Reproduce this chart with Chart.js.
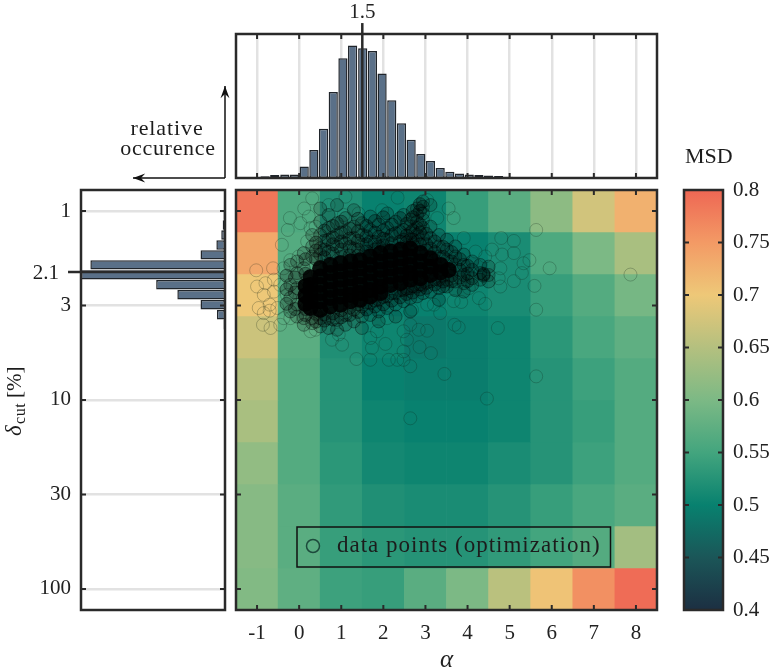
<!DOCTYPE html>
<html>
<head>
<meta charset="utf-8">
<title>MSD over alpha and delta_cut</title>
<script src="https://cdn.jsdelivr.net/npm/chart.js@4"></script>
<style>
  html, body { margin: 0; background: #fff; }
  #wrap { position: relative; width: 771px; height: 670px; overflow: hidden; }
  canvas { position: absolute; }
</style>
</head>
<body>
<div id="wrap">
  <canvas id="leftHist" width="232" height="640" style="left:0;top:0"></canvas>
  <canvas id="topHist" width="436" height="184" style="left:230px;top:0"></canvas>
  <canvas id="heat" width="435" height="485" style="left:230px;top:185px"></canvas>
  <canvas id="bar" width="111" height="490" style="left:660px;top:140px"></canvas>
</div>
<script>
// axes
const alphaTicks = [-1, 0, 1, 2, 3, 4, 5, 6, 7, 8];
const deltaTicks = [1, 3.162, 10, 31.62, 100];
const deltaLabels = ["1", "3", "10", "30", "100"];
const alphaPeak = 1.5;
const deltaPeak = 2.1;

// heat map, one row per delta bin, one value per alpha
const deltaEdges = [0.7743, 1.292, 2.154, 3.594, 5.995, 10, 16.68, 27.83, 46.42, 77.43, 129.2];
const msdRows = [
  [0.785, 0.56, 0.52, 0.5, 0.505, 0.54, 0.57, 0.615, 0.675, 0.725],
  [0.735, 0.565, 0.52, 0.495, 0.495, 0.5, 0.515, 0.56, 0.6, 0.64],
  [0.7, 0.565, 0.525, 0.5, 0.5, 0.505, 0.515, 0.54, 0.565, 0.595],
  [0.67, 0.57, 0.52, 0.505, 0.49, 0.495, 0.505, 0.53, 0.555, 0.575],
  [0.65, 0.565, 0.525, 0.5, 0.495, 0.495, 0.505, 0.525, 0.545, 0.565],
  [0.64, 0.565, 0.525, 0.505, 0.5, 0.5, 0.505, 0.525, 0.54, 0.565],
  [0.62, 0.565, 0.53, 0.51, 0.505, 0.505, 0.515, 0.525, 0.545, 0.565],
  [0.61, 0.57, 0.535, 0.52, 0.515, 0.515, 0.525, 0.54, 0.555, 0.57],
  [0.61, 0.57, 0.54, 0.53, 0.525, 0.525, 0.535, 0.55, 0.565, 0.635],
  [0.605, 0.575, 0.545, 0.54, 0.57, 0.6, 0.655, 0.705, 0.76, 0.795]
];

// colour bar
const barTicks = [0.4, 0.45, 0.5, 0.55, 0.6, 0.65, 0.7, 0.75, 0.8];
const barColors = ["#1c2f42", "#1b5658", "#08816f", "#43a57e", "#7cb985", "#b4c07f", "#eec878", "#f39a65", "#ee6754"];

// histograms, relative occurence
const alphaBins = [-0.81, -0.58, -0.34, -0.11, 0.12, 0.35, 0.58, 0.81, 1.04, 1.27, 1.51, 1.74, 1.97, 2.2, 2.43, 2.66, 2.89, 3.12, 3.35, 3.58, 3.81, 4.04, 4.27, 4.5, 4.74, 4.97, 5.2, 5.43, 5.67];
const alphaCounts = [0.012, 0.021, 0.025, 0.025, 0.079, 0.194, 0.342, 0.598, 0.831, 0.921, 0.901, 0.882, 0.725, 0.54, 0.381, 0.266, 0.166, 0.118, 0.069, 0.044, 0.032, 0.025, 0.021, 0.018, 0.014, 0.009, 0.007, 0.005, 0.005];
const deltaBins = [1.05, 1.185, 1.339, 1.512, 1.707, 1.928, 2.177, 2.458, 2.776, 3.135, 3.54, 3.998];
const deltaCounts = [0.01, 0.016, 0.026, 0.06, 0.17, 0.935, 1.0, 0.478, 0.331, 0.17, 0.056, 0.01];

// optimisation results, [alpha, delta]
const loosePoints = [
  [-1.02, 2.06], [-0.62, 2.01], [-1, 2.51], [-0.8, 2.41], [-0.6, 2.31], [-0.84, 2.78], [-0.6, 2.67], [-0.96, 3.26], [-0.7, 3.37], [-0.84, 3.47],
  [-0.86, 4], [-0.68, 4.16], [-0.7, 3.13], [-0.52, 3.26], [-0.41, 1.51], [-0.22, 1.09], [-0.27, 1.26], [0.31, 0.857], [0.12, 0.97], [0.23, 1.07],
  [0.03, 1.16], [0.27, 1.23], [0.19, 1.45], [0.39, 1.21], [-0.01, 1.74], [-0.21, 1.82], [-0.37, 2.01], [-0.45, 2.46], [-0.29, 2.78], [-0.37, 3.69],
  [-0.45, 4], [-0.21, 3.69], [0.27, 4.33], [0.39, 4.25], [0.78, 4.8], [0.94, 4.5], [1.02, 5.1], [1.36, 6.07], [1.69, 6.13], [1.73, 5.3],
  [2.05, 5.05], [2.13, 6.13], [2.33, 6.13], [2.48, 5.53], [2.48, 6.13], [2.64, 6.63], [2.56, 4.8], [2.84, 4.25], [3.04, 4.3], [2.86, 5.25],
  [3.13, 5.65], [3.45, 7.28], [3.69, 4], [3.79, 4.13], [3.67, 3], [3.85, 3.03], [4.27, 2.89], [4.42, 3.1], [4.72, 4.16], [5.63, 3.33],
  [5.59, 2.49], [5.63, 7.5], [4.46, 9.83], [2.64, 12.5], [5.63, 1.26], [5.95, 2.01], [7.87, 2.17], [4.8, 1.39], [5.1, 1.44], [4.82, 1.7],
  [4.58, 1.6], [5.1, 1.67], [5.47, 1.82], [5.33, 1.89], [5.29, 2.13], [5.1, 2.35], [4.78, 2.51], [4.78, 2.01], [4.74, 2.27], [4.03, 2.56],
  [3.91, 1.39], [4.19, 1.64], [4.42, 1.74], [3.67, 1.09], [3.55, 0.97], [3.04, 0.875], [2.34, 0.85], [1.1, 0.84], [0.7, 0.93], [1.06, 1.05],
  [1.41, 1.03], [1.97, 0.99], [3.28, 1.09], [3.2, 3.13], [3.35, 3.47], [2.68, 3.33], [3.04, 3.13], [1.85, 4.33], [1.69, 4.7], [2.48, 4.33],
  [2.09, 3.69], [2.64, 4]
];
// around the cloud: alpha and the delta values seen in that column
const fringeColumns = [
  [-0.21, [1.93, 2.46, 2.89, 3.4]],
  [-0.05, [1.85, 2.13, 2.56, 3.13, 3.62]],
  [0.11, [1.67, 2.01, 3.69, 4]],
  [0.31, [1.34, 1.54, 1.74, 3.69, 3.92]],
  [0.5, [0.97, 1.14, 1.34, 1.58, 1.7, 3.69, 4.08]],
  [0.7, [1.05, 1.23, 1.42, 1.64, 3.69, 4.16]],
  [0.9, [0.93, 1.16, 1.34, 1.54, 3.77, 4.25]],
  [1.1, [1.09, 1.29, 1.48, 3.55, 4]],
  [1.3, [0.99, 1.21, 1.39, 1.58, 3.33, 3.84]],
  [1.49, [1.16, 1.34, 1.51, 3.2, 3.62, 4.16]],
  [1.69, [1.07, 1.26, 1.45, 3.07, 3.55]],
  [1.89, [1.18, 1.37, 1.54, 2.95, 3.4, 3.84]],
  [2.09, [1.03, 1.23, 1.42, 2.83, 3.26]],
  [2.29, [1.14, 1.31, 2.72, 3.13, 3.62]],
  [2.48, [1.05, 1.26, 1.42, 2.62, 3]],
  [2.64, [1.11, 1.21, 1.31, 1.42, 2.56, 2.89, 3.4]],
  [2.8, [0.97, 1.05, 1.14, 1.23, 1.34, 1.45, 2.51, 2.83]],
  [2.94, [0.89, 0.95, 1.03, 1.11, 1.23, 1.39, 2.46, 2.72]],
  [3.12, [0.93, 1.21, 1.39, 1.58, 2.36, 2.67]],
  [3.32, [1.34, 1.54, 1.74, 2.31, 2.56, 2.95]],
  [3.51, [1.42, 1.6, 1.82, 2.31, 2.51]],
  [3.71, [1.54, 1.74, 1.93, 2.36, 2.62]],
  [3.91, [1.7, 1.93, 2.18, 2.41, 2.67]],
  [4.11, [1.85, 2.05, 2.27, 2.46]],
  [4.3, [1.93, 2.13, 2.31]],
  [4.38, [2.15, 2.17, 2.2]],
  [4.5, [1.97, 2.18, 2.36]]
];
// closer in, where the rings start to run together
const hazeColumns = [
  [-0.3, [2.2, 2.6, 3.1]],
  [-0.1, [2.25, 2.7, 3.3]],
  [0.15, [1.8, 2.15, 2.5, 2.85, 3.3, 3.55]],
  [0.4, [1.47, 1.62, 1.8, 3.5, 3.85]],
  [0.6, [1.27, 1.44, 1.6, 1.76, 3.52, 3.8]],
  [0.8, [1.2, 1.38, 1.5, 1.68, 3.48, 3.75]],
  [1, [1.14, 1.3, 1.45, 1.6, 1.75, 3.35, 3.65]],
  [1.2, [1.24, 1.4, 1.55, 1.72, 3.25, 3.55]],
  [1.4, [1.1, 1.28, 1.44, 1.6, 1.72, 3.12, 3.42]],
  [1.6, [1.2, 1.36, 1.5, 1.64, 3.05, 3.32]],
  [1.8, [1.13, 1.3, 1.46, 1.6, 2.98, 3.2]],
  [2, [1.08, 1.27, 1.4, 1.52, 2.85, 3.12]],
  [2.2, [1.18, 1.34, 1.48, 2.72, 2.98]],
  [2.4, [1.09, 1.29, 1.45, 2.62, 2.86]],
  [2.55, [1.17, 1.35, 1.47, 2.58, 2.75]],
  [2.7, [1, 1.08, 1.27, 1.42, 1.5, 2.5, 2.7]],
  [2.87, [0.92, 1, 1.18, 1.3, 1.5, 2.45, 2.6]],
  [3.02, [1.32, 1.5, 1.62, 2.4, 2.55]],
  [3.22, [1.45, 1.65, 1.82, 2.3, 2.45]],
  [3.42, [1.55, 1.75, 2.2, 2.36, 2.5]],
  [3.62, [1.65, 1.85, 2.2, 2.35]],
  [3.82, [1.8, 2.05, 2.25]],
  [4, [1.95, 2.15, 2.35]]
];
// solid middle of the cloud
const coreColumns = [
  [0.15, [2.5, 2.8, 3.1]],
  [0.27, [2.24, 2.46, 2.72, 3, 3.26]],
  [0.5, [2.01, 2.22, 2.46, 2.72, 3, 3.33]],
  [0.74, [1.93, 2.13, 2.36, 2.62, 2.89, 3.2]],
  [0.98, [1.89, 2.09, 2.31, 2.56, 2.83, 3.13]],
  [1.22, [1.85, 2.05, 2.27, 2.51, 2.78, 3]],
  [1.45, [1.82, 2.01, 2.22, 2.46, 2.72, 2.95]],
  [1.69, [1.74, 1.93, 2.13, 2.36, 2.62, 2.83]],
  [1.93, [1.67, 1.85, 2.05, 2.27, 2.51, 2.72]],
  [2.17, [1.64, 1.82, 2.01, 2.22, 2.46]],
  [2.41, [1.6, 1.78, 1.97, 2.18, 2.41]],
  [2.64, [1.58, 1.74, 1.93, 2.13, 2.31]],
  [2.88, [1.67, 1.85, 2.05, 2.27]],
  [3.12, [1.78, 1.97, 2.18]],
  [3.36, [1.93, 2.11]],
  [3.55, [2.05]]
];

const serif = "'Liberation Serif', serif";
const ink = "#2a2a2a";
const gridGrey = "#e2e2e2";
const histFill = "#5a7088";
const xRange = { min: -1.5, max: 8.5 };
const yRange = { min: deltaEdges[0], max: deltaEdges[deltaEdges.length - 1] };

const asXY = ([x, y]) => ({ x, y });
const unfold = (cols) => cols.flatMap(([a, ds]) => ds.map((d) => ({ x: a, y: d })));

function msdColor(v) {
  const t = Math.min(barColors.length - 1.001, Math.max(0, (v - barTicks[0]) / 0.05));
  const i = Math.floor(t);
  const hex = (c, k) => parseInt(c.substr(1 + 2 * k, 2), 16);
  const rgb = [0, 1, 2].map((k) => Math.round(hex(barColors[i], k) * (1 - t + i) + hex(barColors[i + 1], k) * (t - i)));
  return `rgb(${rgb.join(",")})`;
}

// fixed size for an axis box so the plot box lands where it should
const room = (size) => (s) => {
  if (s.isHorizontal()) s.height = size;
  else s.width = size;
  s.paddingLeft = s.paddingRight = s.paddingTop = s.paddingBottom = 0;
};
const setTicks = (vals) => (s) => {
  s.ticks = vals.map((value) => ({ value }));
};
const tickFont = { family: serif, size: 21 };
const labelOpts = (padding, callback) => ({
  padding, callback, autoSkip: false, maxRotation: 0, color: "#222", font: tickFont
});
const noGrid = { display: false, drawTicks: false, offset: false };
const greyGrid = { color: gridGrey, lineWidth: 2.5, drawTicks: false, offset: false };

// box and inward tick marks
const frame = (sides) => ({
  id: "frame",
  afterDraw(chart) {
    const { ctx, chartArea: a, scales } = chart;
    ctx.save();
    ctx.strokeStyle = ink;
    ctx.lineWidth = 2;
    const len = 5;
    if (sides.x) {
      scales.x.ticks.forEach((t) => {
        const p = scales.x.getPixelForValue(t.value);
        ctx.beginPath();
        ctx.moveTo(p, a.top); ctx.lineTo(p, a.top + len);
        ctx.moveTo(p, a.bottom); ctx.lineTo(p, a.bottom - len);
        ctx.stroke();
      });
    }
    if (sides.y) {
      scales.y.ticks.forEach((t) => {
        const p = scales.y.getPixelForValue(t.value);
        ctx.beginPath();
        ctx.moveTo(a.left, p); ctx.lineTo(a.left + len, p);
        ctx.moveTo(a.right, p); ctx.lineTo(a.right - len, p);
        ctx.stroke();
      });
    }
    ctx.lineWidth = 2.5;
    ctx.strokeRect(a.left, a.top, a.right - a.left, a.bottom - a.top);
    ctx.restore();
  }
});

function text(ctx, str, x, y, font, align, spacing) {
  ctx.font = font;
  ctx.fillStyle = "#1c1c1c";
  ctx.textAlign = align || "left";
  ctx.textBaseline = "alphabetic";
  ctx.letterSpacing = spacing || "0px";
  ctx.fillText(str, x, y);
}
function arrow(ctx, x0, y0, x1, y1) {
  const ang = Math.atan2(y1 - y0, x1 - x0);
  ctx.beginPath();
  ctx.moveTo(x0, y0);
  ctx.lineTo(x1, y1);
  ctx.stroke();
  ctx.beginPath();
  ctx.moveTo(x1, y1);
  ctx.lineTo(x1 - 13 * Math.cos(ang - 0.35), y1 - 13 * Math.sin(ang - 0.35));
  ctx.lineTo(x1 - 8 * Math.cos(ang), y1 - 8 * Math.sin(ang));
  ctx.lineTo(x1 - 13 * Math.cos(ang + 0.35), y1 - 13 * Math.sin(ang + 0.35));
  ctx.closePath();
  ctx.fill();
}

const common = { responsive: false, animation: false, devicePixelRatio: 1 };
const quiet = { legend: { display: false }, tooltip: { enabled: false } };

// left histogram
new Chart(document.getElementById("leftHist"), {
  type: "bar",
  data: {
    datasets: [
      {
        type: "scatter", showLine: true, clip: false, order: 0, pointRadius: 0,
        borderColor: ink, borderWidth: 2.5,
        data: [{ x: 0, y: deltaPeak }, { x: 1.09, y: deltaPeak }]
      },
      {
        indexAxis: "y", order: 1,
        data: deltaBins.map((d, i) => ({ x: deltaCounts[i], y: d })),
        backgroundColor: histFill, borderColor: "#20252b", borderWidth: 1.5,
        borderSkipped: false, barThickness: 9.4, inflateAmount: 0
      }
    ]
  },
  options: {
    ...common,
    layout: { autoPadding: false, padding: { left: 0, right: 7, top: 190, bottom: 30 } },
    scales: {
      x: { type: "linear", reverse: true, min: 0, max: 1, display: false, offset: false, grid: noGrid },
      y: {
        type: "logarithmic", reverse: true, beginAtZero: false, ...yRange, offset: false,
        afterBuildTicks: setTicks(deltaTicks), afterFit: room(81),
        grid: greyGrid, border: { display: false },
        ticks: labelOpts(10, (v) => deltaLabels[deltaTicks.indexOf(v)])
      }
    },
    plugins: quiet
  },
  plugins: [frame({ y: true }), {
    id: "notes",
    afterDraw({ ctx, scales }) {
      ctx.save();
      text(ctx, String(deltaPeak), 59, scales.y.getPixelForValue(deltaPeak) + 7, `21px ${serif}`, "right");
      text(ctx, "relative", 167, 135, `22px ${serif}`, "center", "0.9px");
      text(ctx, "occurence", 168, 155, `22px ${serif}`, "center", "0.7px");
      ctx.strokeStyle = "#111";
      ctx.fillStyle = "#111";
      ctx.lineWidth = 1.5;
      arrow(ctx, 225, 178, 225, 86);
      arrow(ctx, 225, 178, 133, 178);
      ctx.translate(21, 436);
      ctx.rotate(-Math.PI / 2);
      text(ctx, "δ", 0, 0, `italic 23px ${serif}`);
      text(ctx, "cut", 12, 4, `16px ${serif}`, "left", "0.6px");
      text(ctx, "[%]", 38, 0, `21px ${serif}`);
      ctx.restore();
    }
  }]
});

// top histogram
new Chart(document.getElementById("topHist"), {
  type: "bar",
  data: {
    datasets: [
      {
        type: "scatter", showLine: true, clip: false, order: 0, pointRadius: 0,
        borderColor: ink, borderWidth: 2.5,
        data: [{ x: alphaPeak, y: 0 }, { x: alphaPeak, y: 1.076 }]
      },
      {
        order: 1,
        data: alphaBins.map((a, i) => ({ x: a, y: alphaCounts[i] })),
        backgroundColor: histFill, borderColor: "#20252b", borderWidth: 1.5,
        borderSkipped: false, barThickness: 9.2, inflateAmount: 0
      }
    ]
  },
  options: {
    ...common,
    layout: { autoPadding: false, padding: { left: 6, right: 9, top: 0, bottom: 6 } },
    scales: {
      x: {
        type: "linear", ...xRange, offset: false,
        afterBuildTicks: setTicks(alphaTicks), afterFit: room(0),
        grid: greyGrid, border: { display: false },
        ticks: { display: false }
      },
      xPeak: {
        axis: "x", type: "linear", position: "top", ...xRange, offset: false,
        afterBuildTicks: setTicks([alphaPeak]), afterFit: room(34),
        grid: noGrid, border: { display: false },
        ticks: labelOpts(9, (v) => String(v))
      },
      y: { type: "linear", min: 0, max: 1, display: false, grid: noGrid }
    },
    plugins: quiet
  },
  plugins: [frame({ x: true })]
});

// heat map with the optimisation points on top
const heatSets = msdRows.map((row, r) => ({
  type: "bar", order: 10, grouped: false,
  barPercentage: 1, categoryPercentage: 1, borderWidth: 0,
  data: row.map((v, c) => ({ x: alphaTicks[c], y: [deltaEdges[r], deltaEdges[r + 1]] })),
  backgroundColor: row.map(msdColor)
}));
const ring = { type: "scatter", pointRadius: 6.5, pointBorderWidth: 1 };

new Chart(document.getElementById("heat"), {
  type: "scatter",
  data: {
    datasets: [
      { ...ring, label: "data points (optimization)", order: 4, data: loosePoints.map(asXY), pointBackgroundColor: "transparent", pointBorderColor: "rgba(10,30,20,0.25)" },
      { ...ring, order: 3, data: unfold(fringeColumns), pointBackgroundColor: "rgba(0,0,0,0.15)", pointBorderColor: "rgba(0,0,0,0.35)" },
      { ...ring, order: 2, data: unfold(hazeColumns), pointBackgroundColor: "rgba(0,0,0,0.22)", pointBorderColor: "rgba(0,0,0,0.4)" },
      { type: "scatter", order: 1, data: unfold(coreColumns), pointRadius: 8, pointBorderWidth: 0, pointBackgroundColor: "rgba(0,0,0,0.9)" },
      ...heatSets
    ]
  },
  options: {
    ...common,
    layout: { autoPadding: false, padding: { left: 6, right: 8, top: 5, bottom: 0 } },
    scales: {
      x: {
        type: "linear", ...xRange, offset: false,
        afterBuildTicks: setTicks(alphaTicks), afterFit: room(60),
        grid: noGrid, border: { display: false },
        ticks: labelOpts(11, (v) => String(v)),
        title: { display: true, text: "α", font: { family: serif, style: "italic", size: 25 }, color: "#222", padding: { top: 0, bottom: -5 } }
      },
      y: {
        type: "logarithmic", reverse: true, beginAtZero: false, ...yRange, offset: false, display: false,
        afterBuildTicks: setTicks(deltaTicks), grid: noGrid
      }
    },
    plugins: quiet
  },
  plugins: [frame({ x: true, y: true }), {
    id: "legendBox",
    afterDraw({ ctx }) {
      ctx.save();
      ctx.strokeStyle = "#111";
      ctx.lineWidth = 1.5;
      ctx.strokeRect(67, 342, 313.5, 40);
      ctx.strokeStyle = "#1d4a3c";
      ctx.lineWidth = 1.5;
      ctx.beginPath();
      ctx.arc(83, 361, 6.5, 0, 2 * Math.PI);
      ctx.stroke();
      text(ctx, "data points (optimization)", 107, 367, `23px ${serif}`, "left", "1px");
      ctx.restore();
    }
  }]
});

// colour bar
new Chart(document.getElementById("bar"), {
  type: "bar",
  data: {
    labels: ["MSD"],
    datasets: [{
      data: [[barTicks[0], barTicks[barTicks.length - 1]]],
      barPercentage: 1, categoryPercentage: 1, borderWidth: 0,
      backgroundColor(c) {
        const a = c.chart.chartArea;
        if (!a) return barColors[0];
        const g = c.chart.ctx.createLinearGradient(0, a.bottom, 0, a.top);
        barColors.forEach((col, i) => g.addColorStop(i / (barColors.length - 1), col));
        return g;
      }
    }]
  },
  options: {
    ...common,
    layout: { autoPadding: false, padding: { left: 24, right: 0, top: 50, bottom: 20 } },
    scales: {
      x: { display: false, grid: noGrid },
      y: {
        position: "right", min: barTicks[0], max: barTicks[barTicks.length - 1], offset: false,
        afterBuildTicks: setTicks(barTicks), afterFit: room(48),
        grid: noGrid, border: { display: false },
        ticks: labelOpts(10, (v) => String(v))
      }
    },
    plugins: quiet
  },
  plugins: [frame({ y: true }), {
    id: "barTitle",
    afterDraw({ ctx }) {
      ctx.save();
      text(ctx, "MSD", 25, 23, `22px ${serif}`);
      ctx.restore();
    }
  }]
});
</script>
</body>
</html>
